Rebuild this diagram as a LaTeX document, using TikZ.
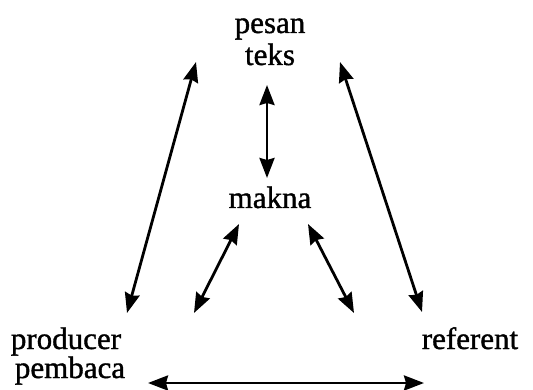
\documentclass[tikz,border=0pt]{standalone}
\usepackage{fontspec}
\setmainfont[FakeBold=1.2]{Liberation Serif}
\usetikzlibrary{arrows.meta}
\begin{document}
\begin{tikzpicture}[x=1pt,y=-1pt,
  lbl/.style={font=\fontsize{31}{36}\selectfont, inner sep=0pt, anchor=base},
  conn/.style={line width=2.8pt, {Stealth[length=20pt,width=15pt,inset=2pt]}-{Stealth[length=20pt,width=15pt,inset=2pt]}}]
\useasboundingbox (0,0) rectangle (533,390);
\node[lbl] (pesan) at (270,33) {pesan};
\node[lbl] (teks) at (270,65) {teks};
\node[lbl] (makna) at (270,208) {makna};
\node[lbl] (producer) at (66,349) {producer};
\node[lbl] (pembaca) at (70,378) {pembaca};
\node[lbl] (referent) at (470,349) {referent};
\coordinate (tA) at (267,85);
\coordinate (tB) at (267,178);
\coordinate (lA) at (196,62);
\coordinate (lB) at (127,313);
\coordinate (rA) at (340,62);
\coordinate (rB) at (422,312);
\coordinate (mlA) at (239,224);
\coordinate (mlB) at (194,313);
\coordinate (mrA) at (308,224);
\coordinate (mrB) at (354,313);
\coordinate (bA) at (148,383);
\coordinate (bB) at (424,383);
\draw[conn] (tA) -- (tB);
\draw[conn] (lA) -- (lB);
\draw[conn] (rA) -- (rB);
\draw[conn] (mlA) -- (mlB);
\draw[conn] (mrA) -- (mrB);
\draw[conn] (bA) -- (bB);
\end{tikzpicture}
\end{document}
